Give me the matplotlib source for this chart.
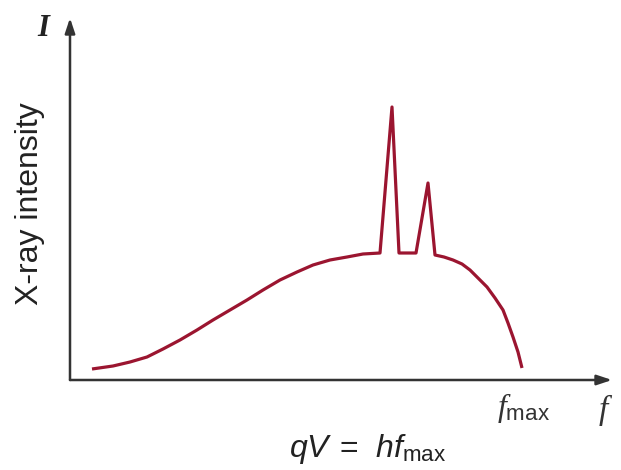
import matplotlib
matplotlib.use("Agg")
import matplotlib.pyplot as plt

plt.rcParams['mathtext.fontset'] = 'custom'
plt.rcParams['mathtext.it'] = 'Liberation Serif:italic'
plt.rcParams['mathtext.rm'] = 'Liberation Sans'
plt.rcParams['mathtext.sf'] = 'Liberation Sans:italic'
plt.rcParams['mathtext.default'] = 'it'

# spectrum (arbitrary units)
freq = [22, 43, 60, 77, 93, 110, 127, 143, 160, 177, 193, 210, 227, 243, 260,
        277, 293, 310, 322, 329, 346, 358, 365,
        374, 383, 392, 400, 408, 417, 425, 433, 438, 443, 448, 452]
intensity = [11, 14, 18, 23, 31, 40, 50, 60, 70, 80, 90, 100, 108, 115, 120,
             123, 126, 127, 273, 127, 127, 197, 125,
             123, 120, 116, 110, 102, 93, 82, 70, 57, 43, 28, 12]

fig = plt.figure(figsize=(6.21, 4.70), dpi=100)
ax = fig.add_axes([70 / 621, 90 / 470, 542 / 621, 362 / 470])
ax.set_xlim(0, 542)
ax.set_ylim(0, 362)
ax.axis('off')

ax.plot(freq, intensity, color='#9b1530', lw=2.3, solid_joinstyle='round',
        solid_capstyle='butt')

# axes with arrow heads
arrow = dict(arrowstyle='-|>,head_length=0.9,head_width=0.3', color='#333333',
             lw=1.8, shrinkA=0, shrinkB=0)
ax.annotate('', xy=(542, 0), xytext=(0, 0), arrowprops=arrow)
ax.annotate('', xy=(0, 362), xytext=(0, 0), arrowprops=arrow)

fig.text(43 / 621, 1 - 28 / 470, 'I', family='Liberation Serif', style='italic',
         weight='bold', fontsize=22, ha='center', va='center', color='#222222')
fig.text(30 / 621, 1 - 204 / 470, 'X-ray intensity', family='Liberation Sans',
         fontsize=23, rotation=90, ha='center', va='center', color='#222222')
fig.text(523 / 621, 1 - 408 / 470, r'$f_{\rm max}$', fontsize=23,
         ha='center', va='center', color='#333333')
fig.text(606 / 621, 1 - 410 / 470, r'$f$', fontsize=24,
         ha='center', va='center', color='#333333')
fig.text(368 / 621, 1 - 449 / 470,
         r'$\mathsf{qV}\;{\rm =}\;\;\mathsf{hf}_{\rm max}$', fontsize=23,
         ha='center', va='center', color='#222222')

fig.savefig('out.png', dpi=100)
